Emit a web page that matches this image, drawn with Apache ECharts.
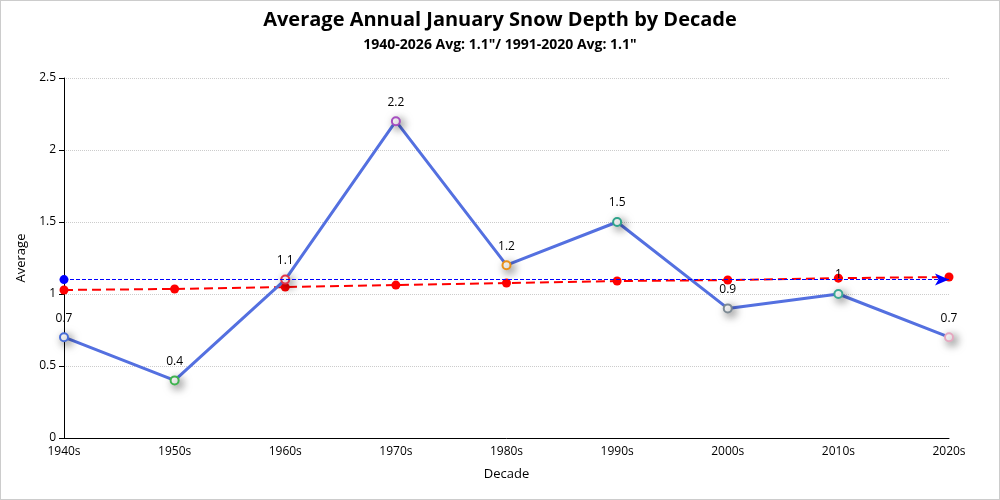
<!DOCTYPE html>
<html>
<head>
<meta charset="utf-8">
<script src="https://cdn.jsdelivr.net/npm/echarts@6/dist/echarts.min.js"></script>
<style>
html,body{margin:0;padding:0;background:#fff;}
#c{width:998px;height:498px;border:1px solid #ccc;}
</style>
</head>
<body>
<div id="c"></div>
<script>
const categories = ['1940s','1950s','1960s','1970s','1980s','1990s','2000s','2010s','2020s'];
const averages = [0.7, 0.4, 1.1, 2.2, 1.2, 1.5, 0.9, 1.0, 0.7];
const trend = [1.028, 1.035, 1.048, 1.062, 1.076, 1.09, 1.097, 1.11, 1.118];
const overallAvg = 1.1;
const markerColors = ['#4a6fd8','#3fb34f','#e0334a','#a64fc0','#e8901a','#2fa38a','#7d8a94','#3aa894','#e6a8c0'];

const chart = echarts.init(document.getElementById('c'));
const font = 'Open Sans, Noto Sans, sans-serif';
const avgData = averages.map(function(v,i){
  return {value:v, itemStyle:{borderColor:markerColors[i]}};
});
chart.setOption({
  textStyle:{fontFamily:font},
  title:{
    text:'Average Annual January Snow Depth by Decade',
    subtext:'1940-2026 Avg: 1.1"/ 1991-2020 Avg: 1.1"',
    left:'center', top:4,
    textStyle:{fontSize:20,fontWeight:'bold',color:'#000',fontFamily:font},
    subtextStyle:{fontSize:14,fontWeight:'bold',color:'#000',fontFamily:font},
    itemGap:8
  },
  grid:{left:63,right:50,top:77,bottom:61},
  xAxis:{
    type:'category', data:categories, boundaryGap:false,
    name:'Decade', nameLocation:'middle', nameGap:30,
    nameTextStyle:{color:'#000',fontSize:13},
    axisLine:{lineStyle:{color:'#000'}},
    axisTick:{show:false},
    axisLabel:{color:'#000',fontSize:12}
  },
  yAxis:{
    type:'value', min:0, max:2.5, interval:0.5,
    name:'Average', nameLocation:'middle', nameGap:35,
    nameTextStyle:{color:'#000',fontSize:13},
    axisLine:{show:true,lineStyle:{color:'#000'}},
    axisTick:{show:true,lineStyle:{color:'#000'}},
    axisLabel:{color:'#000',fontSize:12},
    splitLine:{lineStyle:{color:'#ccc',type:'dotted'}}
  },
  series:[
    {
      name:'Trend', type:'line', data:trend, z:2,
      symbol:'circle', symbolSize:9,
      lineStyle:{color:'#ff0000',width:2,type:[9,5]},
      itemStyle:{color:'#ff0000'},
      silent:true
    },
    {
      name:'Average', type:'line', data:avgData, z:3,
      symbol:'circle', symbolSize:8,
      lineStyle:{color:'#5470e0',width:3},
      itemStyle:{
        color:'#fff', borderWidth:2,
        shadowBlur:10, shadowColor:'rgba(0,0,0,0.5)', shadowOffsetX:3, shadowOffsetY:3
      },
      label:{show:true,position:'top',color:'#000',fontSize:12,distance:8},
      markLine:{
        silent:true,
        symbol:['circle','arrow'], symbolSize:[9,14],
        label:{show:false},
        lineStyle:{color:'#0000ff',type:'dashed',width:1},
        itemStyle:{color:'#0000ff'},
        data:[[{coord:[categories[0],overallAvg]},{coord:[categories[categories.length-1],overallAvg]}]]
      }
    }
  ]
});
</script>
</body>
</html>
